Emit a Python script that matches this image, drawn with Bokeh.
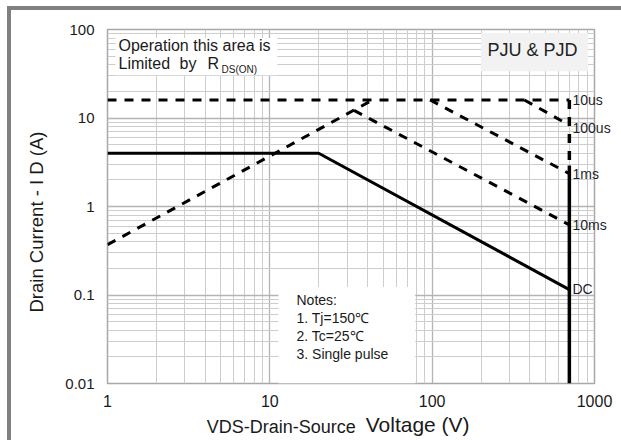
import numpy as np
from bokeh.plotting import figure
from bokeh.models import FixedTicker, Label, BoxAnnotation, Title, LogAxis
from bokeh.embed import file_html
from bokeh.resources import INLINE

# ---- data -------------------------------------------------------------
x_ticks = [1, 10, 100, 1000]
x_tick_labels = ["1", "10", "100", "1000"]
y_ticks = [0.01, 0.1, 1, 10, 100]
y_tick_labels = ["0.01", "0.1", "1", "10", "100"]

rds_v = [1, 43]            # R_DS(on) limit
rds_i = [0.37, 16]
us10_v = [1, 700]          # 10us
us10_i = [16, 16]
us100_v = [370, 700]       # 100us
us100_i = [16, 8.3]
ms1_v = [97, 700]          # 1ms
ms1_i = [16, 2.35]
ms10_v = [33, 700]         # 10ms
ms10_i = [12.2, 0.62]
dc_v = [1, 20, 700]        # DC
dc_i = [4, 4, 0.115]
vlim_dash_v = [700, 700]
vlim_dash_i = [16, 2.9]
vlim_solid_v = [700, 700]
vlim_solid_i = [2.9, 0.01]

curve_labels = ["10us", "100us", "1ms", "10ms", "DC"]
curve_label_i = [16, 7.7, 2.3, 0.61, 0.118]

notes = ["Notes:", "1. Tj=150\u2103", "2. Tc=25\u2103", "3. Single pulse"]

x_title_parts = ["VDS-Drain-Source", "Voltage (V)"]
y_title = "Drain Current - I D (A)"

FONT = "Liberation Sans"
INK = "#1a1a1a"

# ---- minor tick positions for the log grid ----------------------------
x_minor = [m * 10.0 ** e for e in range(0, 3) for m in range(2, 10)]
y_minor = [m * 10.0 ** e for e in range(-2, 2) for m in range(2, 10)]

p = figure(
    x_axis_type="log", y_axis_type="log",
    x_range=(1, 1000), y_range=(0.01, 100),
    frame_width=487, frame_height=354,
    min_border_left=107, min_border_right=27,
    min_border_top=29, min_border_bottom=57,
    output_backend="svg", toolbar_location=None,
    background_fill_color="white", border_fill_alpha=0,
)
# grey page frame on the top and left (drawn by the page element behind the canvas)
p.styles = {
    "background-color": "white",
    "box-shadow": "inset 7px 6px 0 0 white, inset 11px 10px 0 0 #808080",
}

p.outline_line_color = "#a8a8a8"
p.outline_line_width = 1.5


def plain_axis(ax, size, standoff):
    ax.axis_line_color = None
    ax.major_tick_line_color = None
    ax.minor_tick_line_color = None
    ax.major_tick_out = 0
    ax.minor_tick_out = 0
    ax.major_tick_in = 0
    ax.minor_tick_in = 0
    ax.major_label_text_font = FONT
    ax.major_label_text_color = INK
    ax.major_label_text_font_size = size
    ax.major_label_standoff = standoff


xax = p.xaxis[0]
yax = p.yaxis[0]
xax.ticker = FixedTicker(ticks=x_ticks, minor_ticks=x_minor)
yax.ticker = FixedTicker(ticks=y_ticks, minor_ticks=y_minor)
xax.major_label_overrides = {float(t): l for t, l in zip(x_ticks, x_tick_labels)}
yax.major_label_overrides = {float(t): l for t, l in zip(y_ticks, y_tick_labels)}
plain_axis(xax, "16px", 11)
plain_axis(yax, "15px", 13)

for g in (p.xgrid[0], p.ygrid[0]):
    g.grid_line_color = "#b4b4b4"
    g.grid_line_width = 1.3
    g.minor_grid_line_color = "#cdcdcd"
    g.minor_grid_line_width = 1

# x axis title: two parts with different sizes, placed as single-tick axes
title_a_x = 11.77
title_b_x = 81.4
ax_a = LogAxis(ticker=FixedTicker(ticks=[title_a_x]),
               major_label_overrides={title_a_x: x_title_parts[0]})
plain_axis(ax_a, "18px", 7)
p.add_layout(ax_a, "below")
ax_b = LogAxis(ticker=FixedTicker(ticks=[title_b_x]),
               major_label_overrides={title_b_x: x_title_parts[1]})
plain_axis(ax_b, "21px", -27)
p.add_layout(ax_b, "below")

# y axis title as a side-panel title (offset from the frame bottom)
p.add_layout(Title(text=y_title, align="left", offset=71,
                   standoff=31, text_font=FONT, text_font_size="18.5px",
                   text_font_style="normal", text_color=INK), "left")

# curve names on a right-hand axis, pulled inside the frame
ax_r = LogAxis(ticker=FixedTicker(ticks=curve_label_i),
               major_label_overrides={float(v): t for v, t in zip(curve_label_i, curve_labels)})
plain_axis(ax_r, "14px", -22)
ax_r.major_label_text_color = "#1f1f2f"
p.add_layout(ax_r, "right")

# ---- white / grey boxes ------------------------------------------------
p.add_layout(BoxAnnotation(left=11.3, right=78.6, top=0.123,
                           fill_color="white", fill_alpha=1, line_color=None))
p.add_layout(BoxAnnotation(left=1.12, right=11.1, bottom=30.4, top=80,
                           fill_color="white", fill_alpha=1, line_color=None))
p.add_layout(BoxAnnotation(left=200, right=912, bottom=33.8, top=91,
                           fill_color="#f2f2f2", fill_alpha=1, line_color=None))

# ---- curves ------------------------------------------------------------
dash = "9 8"
p.line(rds_v, rds_i, line_color="black", line_width=3, line_dash=dash)
p.line(us10_v, us10_i, line_color="black", line_width=3, line_dash=dash)
p.line(us100_v, us100_i, line_color="black", line_width=3, line_dash=dash)
p.line(ms1_v, ms1_i, line_color="black", line_width=3, line_dash=dash)
p.line(ms10_v, ms10_i, line_color="black", line_width=3, line_dash=dash)
p.line(vlim_dash_v, vlim_dash_i, line_color="black", line_width=3.5, line_dash=dash)
p.line(vlim_solid_v, vlim_solid_i, line_color="black", line_width=3.5)
p.line(dc_v, dc_i, line_color="black", line_width=3, line_join="round")

# ---- text annotations --------------------------------------------------
def lab(txt, x, y, size, **kw):
    p.add_layout(Label(x=x, y=y, x_units="screen", y_units="screen", text=txt,
                       text_font=FONT, text_font_size=size,
                       text_color=kw.pop("color", INK), **kw))

lab("Operation this area is", 11, 330, "16px")
lab("Limited", 11, 312, "16px")
lab("by", 72, 312, "16px")
lab("R", 100, 312, "16px")
lab("DS(ON)", 114, 309, "10px")

lab("PJU & PJD", 380, 324, "18px", color="#222222")

for k, t in enumerate(notes):
    lab(t, 189, 76 - 18 * k, "14px")

open("out.html", "w").write(file_html(p, INLINE))
